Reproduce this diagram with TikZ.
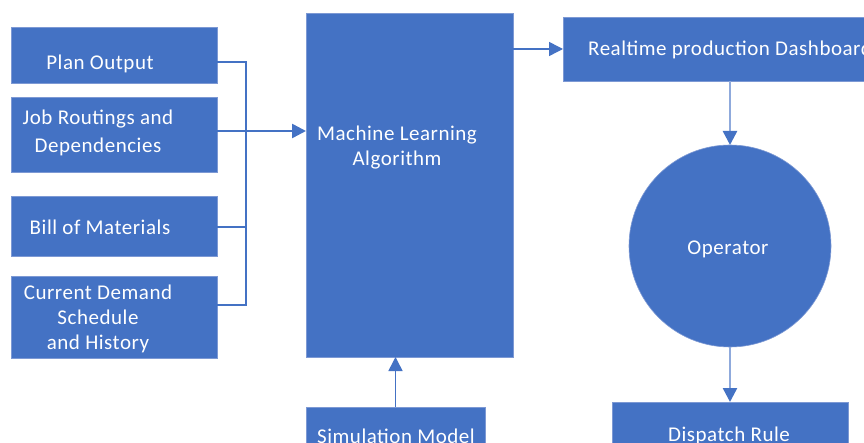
\documentclass[tikz,border=0pt]{standalone}
\usepackage{fontspec}
\setmainfont{Carlito}[LetterSpace=2.5]
\usetikzlibrary{arrows.meta}
\definecolor{boxblue}{HTML}{4472C4}
\definecolor{edgeblue}{HTML}{7D99D4}
\definecolor{lineblue}{HTML}{4472C4}
\definecolor{paleblue}{HTML}{8FAADC}
\begin{document}
\begin{tikzpicture}[x=1pt,y=-1pt,
 box/.style={fill=boxblue,draw=edgeblue,line width=0.6pt,inner sep=0pt,outer sep=0pt},
 txt/.style={text=white,font=\fontsize{21}{25}\selectfont,inner sep=0pt,align=center},
 conn/.style={draw=lineblue,line width=1.5pt},
 tip/.style={-{Triangle[length=14pt,width=14pt,color=boxblue]}}
]
\clip (0,0) rectangle (864,443);
\fill[white] (0,0) rectangle (864,443);
% boxes
\node[box,minimum width=206pt,minimum height=56pt] (po) at (114,55) {};
\node[box,minimum width=206pt,minimum height=75pt] (jr) at (114,134.5) {};
\node[box,minimum width=206pt,minimum height=60pt] (bm) at (114,226) {};
\node[box,minimum width=206pt,minimum height=82pt] (cd) at (114,317) {};
\node[box,minimum width=207pt,minimum height=344pt] (ml) at (409.5,185) {};
\node[box,minimum width=347pt,minimum height=64pt] (db) at (736.5,49) {};
\node[box,circle,minimum size=202pt] (op) at (730,246) {};
\node[box,minimum width=236pt,minimum height=58pt] (dr) at (730,431) {};
\node[box,minimum width=179pt,minimum height=58pt] (sm) at (395.5,436) {};
% texts
\node[txt,anchor=base] (tpo) at (100,70) {Plan Output};
\node[txt,font=\fontsize{21}{28}\selectfont] (tjr) at (98,133) {Job Routings and\\Dependencies};
\node[txt,anchor=base] (tbm) at (100,235) {Bill of Materials};
\node[txt] (tcd) at (98,319) {Current Demand\\Schedule\\and History};
\node[txt] (tml) at (397,148) {Machine Learning\\Algorithm};
\node[txt,anchor=base west] (tdb) at (588,56) {Realtime production Dashboard};
\node[txt,anchor=base] (top) at (728,255) {Operator};
\node[txt,anchor=base] (tdr) at (729,441) {Dispatch Rule};
\node[txt,anchor=base] (tsm) at (396,443) {Simulation Model};
% connectors
\coordinate (b1) at (246,62);
\coordinate (b2) at (246,131);
\coordinate (b3) at (246,227);
\coordinate (b4) at (246,305);
\draw[conn] (po.east |- b1) -- (b1) -- (b4) -- (cd.east |- b4);
\draw[conn] (jr.east |- b2) -- (b2);
\draw[conn] (bm.east |- b3) -- (b3);
\draw[conn,line width=2.5pt,tip] (b2) -- (ml.west |- b2);
\draw[conn,tip] (ml.east |- db.west) -- (db.west);
\draw[draw=paleblue,line width=2.5pt,tip] (op.north |- db.south) -- (op.north);
\draw[draw=paleblue,line width=2.5pt,tip] (op.south) -- (dr.north);
\draw[conn,tip] (sm.north) -- (sm.north |- ml.south);
\end{tikzpicture}
\end{document}
